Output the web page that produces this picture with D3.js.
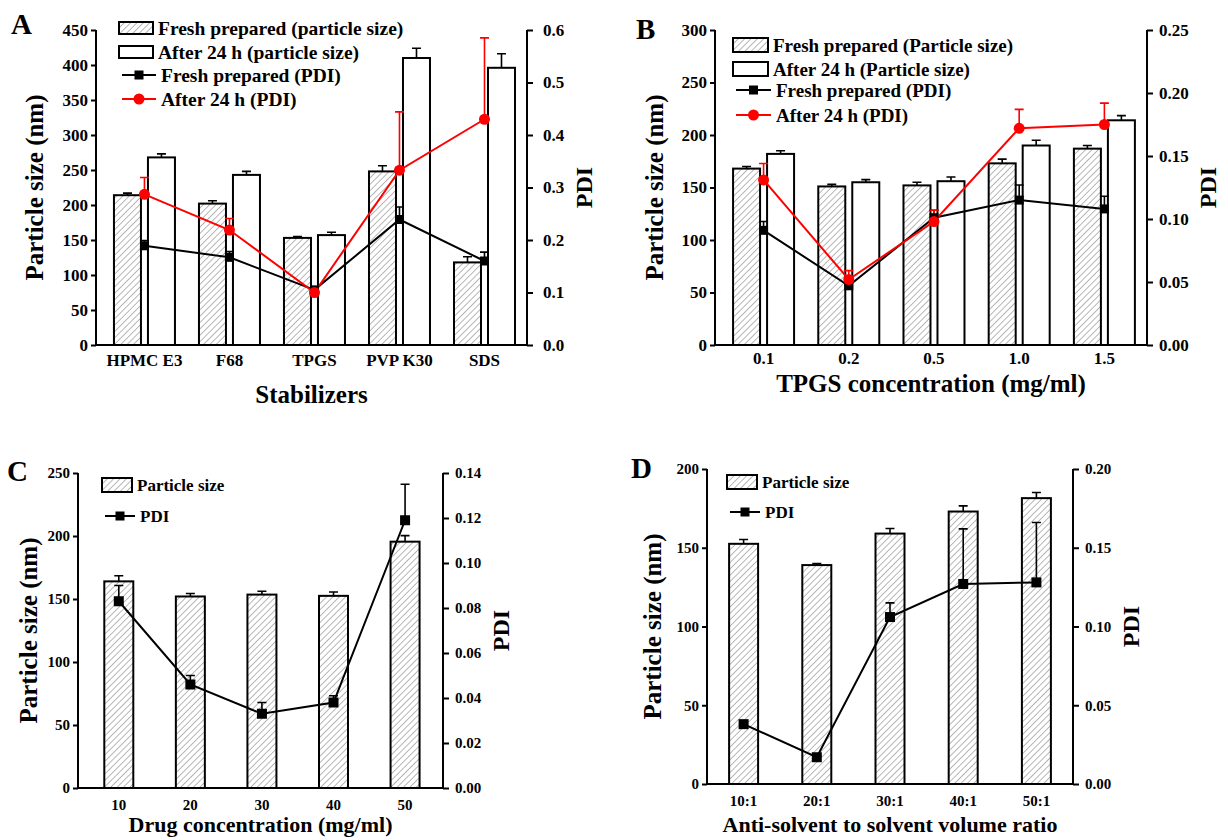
<!DOCTYPE html>
<html>
<head>
<meta charset="utf-8">
<script src="https://cdn.jsdelivr.net/npm/d3@7"></script>
<style>
  body { margin: 0; background: #fff; }
  svg text { font-family: "Liberation Serif", "Times New Roman", serif; font-weight: bold; fill: #000; }
</style>
</head>
<body>
<svg width="1228" height="840"></svg>
<script>
// ---- panel A: stabilizers ----
var stabilizers = ["HPMC E3", "F68", "TPGS", "PVP K30", "SDS"];
var aFreshSize = [214, 202, 153, 248, 118];
var aFreshSizeErr = [3, 4, 2, 8, 8];
var aAfterSize = [268, 243, 157, 410, 396];
var aAfterSizeErr = [5, 5, 4, 14, 20];
var aFreshPdi = [0.189, 0.167, 0.105, 0.239, 0.160];
var aFreshPdiErr = [0.010, 0.011, 0.003, 0.024, 0.017];
var aAfterPdi = [0.287, 0.219, 0.100, 0.333, 0.430];
var aAfterPdiErr = [0.032, 0.022, 0.003, 0.111, 0.155];

// ---- panel B: TPGS concentration ----
var tpgsConc = ["0.1", "0.2", "0.5", "1.0", "1.5"];
var bFreshSize = [168, 151, 152, 173, 187];
var bFreshSizeErr = [2, 2, 3, 4, 3];
var bAfterSize = [182, 155, 156, 190, 214];
var bAfterSizeErr = [3, 2.5, 4, 5, 4.5];
var bFreshPdi = [0.091, 0.047, 0.101, 0.115, 0.108];
var bFreshPdiErr = [0.007, 0.003, 0.006, 0.012, 0.010];
var bAfterPdi = [0.131, 0.052, 0.098, 0.172, 0.175];
var bAfterPdiErr = [0.013, 0.007, 0.009, 0.015, 0.017];

// ---- panel C: drug concentration ----
var drugConc = ["10", "20", "30", "40", "50"];
var cSize = [164, 152, 153.5, 152.5, 195.5];
var cSizeErr = [4.5, 2.4, 2.6, 3, 4.8];
var cPdi = [0.083, 0.046, 0.033, 0.038, 0.119];
var cPdiErr = [0.007, 0.004, 0.005, 0.003, 0.016];

// ---- panel D: anti-solvent ratio ----
var ratios = ["10:1", "20:1", "30:1", "40:1", "50:1"];
var dSize = [152.5, 139, 159, 173, 181.5];
var dSizeErr = [2.7, 1, 3.2, 3.6, 3.6];
var dPdi = [0.038, 0.017, 0.106, 0.127, 0.128];
var dPdiErr = [0.002, 0.001, 0.009, 0.035, 0.038];

var svg = d3.select("svg");

// hatch used for the "fresh / particle size" bars
var defs = svg.append("defs");
defs.append("pattern")
    .attr("id", "hatch")
    .attr("patternUnits", "userSpaceOnUse")
    .attr("width", 4.5)
    .attr("height", 4.5)
    .attr("patternTransform", "rotate(45)")
  .call(function(p) {
    p.append("rect").attr("width", 4.5).attr("height", 4.5).attr("fill", "#fff");
    p.append("line").attr("x1", 0).attr("y1", 0).attr("x2", 0).attr("y2", 4.5)
      .attr("stroke", "#707070").attr("stroke-width", 1);
  });

function drawPanel(p) {
  var g = svg.append("g");

  var x = d3.scaleLinear().domain(p.xDomain).range([p.left, p.right]);
  var y = d3.scaleLinear().domain([0, p.yMax]).range([p.bottom, p.top]);
  var y2 = d3.scaleLinear().domain([0, p.pdiMax]).range([p.bottom, p.top]);

  // bars
  p.bars.forEach(function(b) {
    var bg = g.append("g");
    bg.selectAll("rect")
      .data(b.values)
      .enter().append("rect")
        .attr("x", function(d, i) { return x(i) + b.offset - p.barWidth / 2; })
        .attr("y", function(d) { return y(d); })
        .attr("width", p.barWidth)
        .attr("height", function(d) { return y(0) - y(d); })
        .attr("fill", b.hatched ? "url(#hatch)" : "#fff")
        .attr("stroke", "#000")
        .attr("stroke-width", 2);

    bg.selectAll("path.err")
      .data(b.values)
      .enter().append("path")
        .attr("class", "err")
        .attr("d", function(d, i) {
          var cx = x(i) + b.offset, top = y(d + b.err[i]);
          return "M" + cx + "," + y(d) + "V" + top + "M" + (cx - 4.5) + "," + top + "H" + (cx + 4.5);
        })
        .attr("stroke", "#000")
        .attr("stroke-width", 1.6)
        .attr("fill", "none");
  });

  // pdi lines
  var line = d3.line()
    .x(function(d, i) { return x(i); })
    .y(function(d) { return y2(d); });

  p.lines.forEach(function(l) {
    var lg = g.append("g");
    lg.append("path")
      .datum(l.values)
      .attr("d", line)
      .attr("fill", "none")
      .attr("stroke", l.color)
      .attr("stroke-width", 2);

    lg.selectAll("path.err")
      .data(l.values)
      .enter().append("path")
        .attr("class", "err")
        .attr("d", function(d, i) {
          var cx = x(i), top = y2(d + l.err[i]);
          return "M" + cx + "," + y2(d) + "V" + top + "M" + (cx - 4.5) + "," + top + "H" + (cx + 4.5);
        })
        .attr("stroke", l.color)
        .attr("stroke-width", 1.6)
        .attr("fill", "none");
  });

  // markers on top
  p.lines.forEach(function(l) {
    var mg = g.append("g");
    if (l.marker === "circle") {
      mg.selectAll("circle")
        .data(l.values)
        .enter().append("circle")
          .attr("cx", function(d, i) { return x(i); })
          .attr("cy", function(d) { return y2(d); })
          .attr("r", 5.5)
          .attr("fill", l.color);
    } else {
      mg.selectAll("rect")
        .data(l.values)
        .enter().append("rect")
          .attr("x", function(d, i) { return x(i) - p.markerSize / 2; })
          .attr("y", function(d) { return y2(d) - p.markerSize / 2; })
          .attr("width", p.markerSize)
          .attr("height", p.markerSize)
          .attr("fill", l.color);
    }
  });

  // axes
  var leftAxis = d3.axisLeft(y)
    .tickValues(d3.range(0, p.yMax + 1, p.yStep))
    .tickSize(5).tickPadding(3);
  var rightAxis = d3.axisRight(y2)
    .tickValues(d3.range(0, p.pdiMax + 1e-9, p.pdiStep))
    .tickFormat(d3.format(p.pdiFormat))
    .tickSize(6).tickPadding(p.rightPad);

  var ga = g.append("g").attr("transform", "translate(" + p.left + ",0)").call(leftAxis);
  var gr = g.append("g").attr("transform", "translate(" + p.right + ",0)").call(rightAxis);
  [ga, gr].forEach(function(a) {
    a.select(".domain").attr("stroke-width", 2);
    a.selectAll(".tick line").attr("stroke-width", 2);
    a.selectAll("text").attr("font-size", p.tickFont + "px")
      .style("font-family", "'Liberation Serif', serif").style("font-weight", "bold");
  });
  ga.select(".domain").attr("d", "M0," + p.top + "V" + p.bottom);
  gr.select(".domain").attr("d", "M0," + p.top + "V" + p.bottom);

  g.append("line")
    .attr("x1", p.left).attr("x2", p.right)
    .attr("y1", p.bottom).attr("y2", p.bottom)
    .attr("stroke", "#000").attr("stroke-width", 2);

  g.selectAll("text.cat")
    .data(p.categories)
    .enter().append("text")
      .attr("class", "cat")
      .attr("x", function(d, i) { return x(i); })
      .attr("y", p.bottom + p.catDy)
      .attr("text-anchor", "middle")
      .attr("font-size", p.tickFont + "px")
      .text(function(d) { return d; });

  // titles
  g.append("text")
    .attr("x", (p.left + p.right) / 2 + p.xTitleDx)
    .attr("y", p.xTitleY)
    .attr("text-anchor", "middle")
    .attr("font-size", p.xTitleFont + "px")
    .text(p.xTitle);

  g.append("text")
    .attr("transform", "translate(" + p.yTitleX + "," + ((p.top + p.bottom) / 2) + ") rotate(-90)")
    .attr("text-anchor", "middle")
    .attr("font-size", "25px")
    .text("Particle size (nm)");

  g.append("text")
    .attr("transform", "translate(" + p.pdiTitleX + "," + ((p.top + p.bottom) / 2) + ") rotate(-90)")
    .attr("text-anchor", "middle")
    .attr("font-size", "24px")
    .text("PDI");

  g.append("text")
    .attr("x", p.letterX).attr("y", p.letterY)
    .attr("font-size", "29px")
    .text(p.letter);

  // legend
  var lg = g.append("g");
  p.legend.forEach(function(it) {
    if (it.type === "bar") {
      lg.append("rect")
        .attr("x", p.legX).attr("y", it.y - p.legH / 2)
        .attr("width", p.legW).attr("height", p.legH)
        .attr("fill", it.hatched ? "url(#hatch)" : "#fff")
        .attr("stroke", "#000").attr("stroke-width", 2);
    } else {
      lg.append("line")
        .attr("x1", p.legX + 3).attr("x2", p.legX + p.legW + 3)
        .attr("y1", it.y).attr("y2", it.y)
        .attr("stroke", it.color).attr("stroke-width", 2);
      var mx = p.legX + 3 + p.legW / 2;
      if (it.marker === "circle") {
        lg.append("circle").attr("cx", mx).attr("cy", it.y).attr("r", 5.5).attr("fill", it.color);
      } else {
        lg.append("rect").attr("x", mx - 4.5).attr("y", it.y - 4.5)
          .attr("width", 9).attr("height", 9).attr("fill", it.color);
      }
    }
    lg.append("text")
      .attr("x", p.legX + p.legW + (it.type === "bar" ? 5 : 8))
      .attr("y", it.y)
      .attr("dy", "0.35em")
      .attr("font-size", p.legFont + "px")
      .text(it.label);
  });
}

drawPanel({
  letter: "A", letterX: 11, letterY: 34,
  left: 96, right: 527, top: 30, bottom: 345,
  xDomain: [-0.57, 4.5], yMax: 450, yStep: 50, pdiMax: 0.6, pdiStep: 0.1, pdiFormat: ".1f",
  barWidth: 27, markerSize: 9, tickFont: 17, rightPad: 10, catDy: 21,
  categories: stabilizers,
  bars: [
    { values: aFreshSize, err: aFreshSizeErr, offset: -17, hatched: true },
    { values: aAfterSize, err: aAfterSizeErr, offset: 17, hatched: false }
  ],
  lines: [
    { values: aFreshPdi, err: aFreshPdiErr, color: "#000", marker: "square" },
    { values: aAfterPdi, err: aAfterPdiErr, color: "#f00", marker: "circle" }
  ],
  xTitle: "Stabilizers", xTitleY: 403, xTitleDx: 0, xTitleFont: 25,
  yTitleX: 43, pdiTitleX: 592,
  legX: 119, legW: 34, legH: 12, legFont: 19.5,
  legend: [
    { type: "bar", hatched: true, y: 28, label: "Fresh prepared (particle size)" },
    { type: "bar", hatched: false, y: 52, label: "After 24 h (particle size)" },
    { type: "line", color: "#000", marker: "square", y: 75, label: "Fresh prepared (PDI)" },
    { type: "line", color: "#f00", marker: "circle", y: 99, label: "After 24 h (PDI)" }
  ]
});

drawPanel({
  letter: "B", letterX: 636, letterY: 39,
  left: 715, right: 1147, top: 30, bottom: 345,
  xDomain: [-0.57, 4.5], yMax: 300, yStep: 50, pdiMax: 0.25, pdiStep: 0.05, pdiFormat: ".2f",
  barWidth: 27, markerSize: 9, tickFont: 17, rightPad: 6, catDy: 19,
  categories: tpgsConc,
  bars: [
    { values: bFreshSize, err: bFreshSizeErr, offset: -17, hatched: true },
    { values: bAfterSize, err: bAfterSizeErr, offset: 17, hatched: false }
  ],
  lines: [
    { values: bFreshPdi, err: bFreshPdiErr, color: "#000", marker: "square" },
    { values: bAfterPdi, err: bAfterPdiErr, color: "#f00", marker: "circle" }
  ],
  xTitle: "TPGS concentration (mg/ml)", xTitleY: 392, xTitleDx: 0, xTitleFont: 25,
  yTitleX: 663, pdiTitleX: 1216,
  legX: 733, legW: 35, legH: 14, legFont: 19,
  legend: [
    { type: "bar", hatched: true, y: 45, label: "Fresh prepared (Particle size)" },
    { type: "bar", hatched: false, y: 69, label: "After 24 h (Particle size)" },
    { type: "line", color: "#000", marker: "square", y: 90, label: "Fresh prepared (PDI)" },
    { type: "line", color: "#f00", marker: "circle", y: 115, label: "After 24 h (PDI)" }
  ]
});

drawPanel({
  letter: "C", letterX: 7, letterY: 481,
  left: 78, right: 443, top: 473, bottom: 788,
  xDomain: [-0.57, 4.53], yMax: 250, yStep: 50, pdiMax: 0.14, pdiStep: 0.02, pdiFormat: ".2f",
  barWidth: 29, markerSize: 10, tickFont: 15, rightPad: 6, catDy: 22,
  categories: drugConc,
  bars: [ { values: cSize, err: cSizeErr, offset: 0, hatched: true } ],
  lines: [ { values: cPdi, err: cPdiErr, color: "#000", marker: "square" } ],
  xTitle: "Drug concentration (mg/ml)", xTitleY: 832, xTitleDx: 0, xTitleFont: 22,
  yTitleX: 37, pdiTitleX: 509,
  legX: 102, legW: 30, legH: 14, legFont: 17,
  legend: [
    { type: "bar", hatched: true, y: 485, label: "Particle size" },
    { type: "line", color: "#000", marker: "square", y: 516, label: "PDI" }
  ]
});

drawPanel({
  letter: "D", letterX: 631, letterY: 478,
  left: 707, right: 1073, top: 469, bottom: 784,
  xDomain: [-0.5, 4.5], yMax: 200, yStep: 50, pdiMax: 0.20, pdiStep: 0.05, pdiFormat: ".2f",
  barWidth: 29, markerSize: 10, tickFont: 15, rightPad: 6, catDy: 22,
  categories: ratios,
  bars: [ { values: dSize, err: dSizeErr, offset: 0, hatched: true } ],
  lines: [ { values: dPdi, err: dPdiErr, color: "#000", marker: "square" } ],
  xTitle: "Anti-solvent to solvent volume ratio", xTitleY: 832, xTitleDx: 0, xTitleFont: 22,
  yTitleX: 661, pdiTitleX: 1139,
  legX: 727, legW: 30, legH: 14, legFont: 17,
  legend: [
    { type: "bar", hatched: true, y: 482, label: "Particle size" },
    { type: "line", color: "#000", marker: "square", y: 512, label: "PDI" }
  ]
});
</script>
</body>
</html>
